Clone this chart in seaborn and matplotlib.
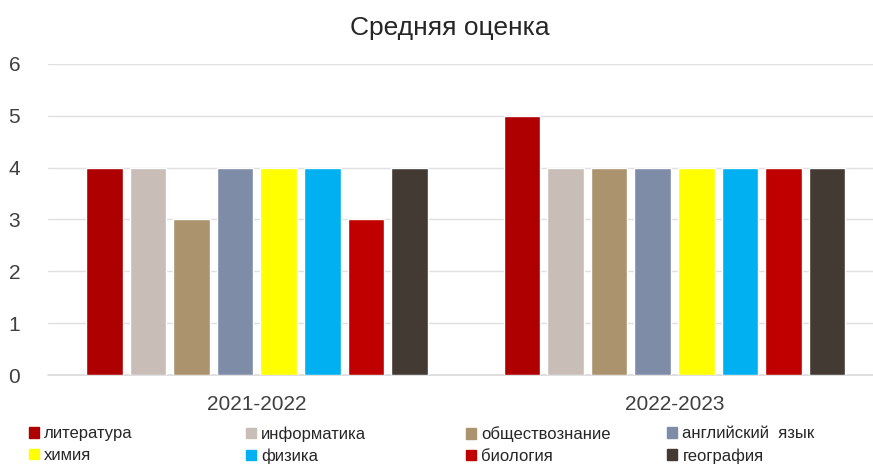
import pandas as pd
import matplotlib.pyplot as plt
import matplotlib.patches as mpatches
import seaborn as sns

# data
years = ['2021-2022', '2022-2023']
subjects = ['литература', 'информатика', 'обществознание', 'английский  язык',
            'химия', 'физика', 'биология', 'география']
scores_2021 = [4, 4, 3, 4, 4, 4, 3, 4]
scores_2022 = [5, 4, 4, 4, 4, 4, 4, 4]
colors = ['#AE0000', '#C8BEB7', '#AB936E', '#7F8CA8',
          '#FFFF00', '#00B0F0', '#C00000', '#433A33']

df = pd.DataFrame({
    'year': [years[0]] * len(subjects) + [years[1]] * len(subjects),
    'subject': subjects * 2,
    'score': scores_2021 + scores_2022,
})

sns.set_style('white')
plt.rcParams['font.family'] = ['Liberation Sans', 'DejaVu Sans']

fig = plt.figure(figsize=(8.73, 4.66), dpi=100)
ax = fig.add_axes([0.055, 0.195, 0.945, 0.668])

sns.barplot(data=df, x='year', y='score', hue='subject', palette=colors,
            saturation=1, width=0.835, gap=0.16, ax=ax, legend=False)

ax.set_ylim(0, 6)
ax.set_xlim(-0.5, 1.475)
ax.set_yticks(range(7))
ax.yaxis.grid(True, color='#E0E0E0', linewidth=1)
ax.axhline(0, color='#D9D9D9', linewidth=1.2, clip_on=False, zorder=0)
ax.set_axisbelow(True)
for s in ax.spines.values():
    s.set_visible(False)
ax.tick_params(axis='both', length=0, labelsize=15, colors='#404040')
ax.tick_params(axis='y', pad=20)
ax.tick_params(axis='x', pad=14)
ax.set_xlabel('')
ax.set_ylabel('')
fig.suptitle('Средняя оценка', x=0.515, y=0.965, fontsize=19, color='#262626')

# legend laid out row by row in four columns
col_x = [0.024, 0.272, 0.524, 0.755]
for i, x in enumerate(col_x):
    handles = [mpatches.Patch(color=colors[i]), mpatches.Patch(color=colors[i + 4])]
    labels = [subjects[i], subjects[i + 4]]
    fig.legend(handles, labels, loc='upper left', bbox_to_anchor=(x, 0.103),
               frameon=False, fontsize=12, handlelength=0.6, handleheight=0.6,
               handletextpad=0.3, labelspacing=0.4, borderpad=0, labelcolor='#262626')

fig.savefig('out.png', dpi=100)
